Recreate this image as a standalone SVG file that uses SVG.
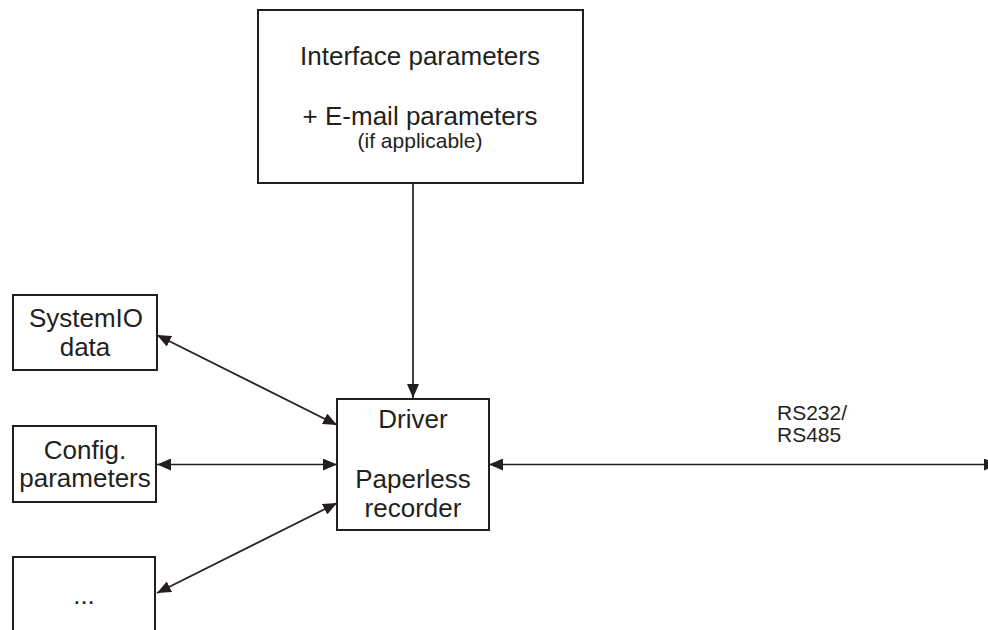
<svg xmlns="http://www.w3.org/2000/svg" width="988" height="630" viewBox="0 0 988 630">
<style>
.box{fill:#fff;stroke:#231f20;stroke-width:2}
.t{font-family:"Liberation Sans",Arial,sans-serif;font-size:26px;fill:#231f20;text-anchor:middle}
.s{font-size:21px}
.rs{font-family:"Liberation Sans",Arial,sans-serif;font-size:21px;fill:#231f20}
.c{fill:none;stroke:#231f20;stroke-width:1.7}
</style>
<defs>
<marker id="ah" viewBox="0 0 14 12" refX="14" refY="6" markerWidth="14" markerHeight="12" markerUnits="userSpaceOnUse" orient="auto-start-reverse">
<path d="M0,0 L14,6 L0,12 Z" fill="#231f20"/>
</marker>
</defs>
<g id="connectors">
<path class="c" d="M413,184 L413,398" marker-end="url(#ah)"/>
<path class="c" d="M157,335 L337,425" marker-start="url(#ah)" marker-end="url(#ah)"/>
<path class="c" d="M157,464.5 L337,464.5" marker-start="url(#ah)" marker-end="url(#ah)"/>
<path class="c" d="M157,593 L337,503" marker-start="url(#ah)" marker-end="url(#ah)"/>
<path class="c" d="M489,464.5 L998,464.5" marker-start="url(#ah)" marker-end="url(#ah)"/>
<text class="rs" x="777" y="420">RS232/</text>
<text class="rs" x="777" y="442">RS485</text>
</g>
<g id="interface">
<rect class="box" x="258" y="10" width="325" height="173"/>
<text class="t" x="420" y="65">Interface parameters</text>
<text class="t" x="420" y="125">+ E-mail parameters</text>
<text class="t s" x="420" y="148">(if applicable)</text>
</g>
<g id="systemio">
<rect class="box" x="13" y="295" width="144" height="75"/>
<text class="t" x="86" y="327">SystemIO</text>
<text class="t" x="85" y="356">data</text>
</g>
<g id="config">
<rect class="box" x="13" y="426" width="143" height="76"/>
<text class="t" x="85" y="459">Config.</text>
<text class="t" x="85" y="487">parameters</text>
</g>
<g id="more">
<rect class="box" x="13" y="557" width="142" height="90"/>
<text class="t" x="84" y="604">...</text>
</g>
<g id="driver">
<rect class="box" x="337" y="399" width="152" height="131"/>
<text class="t" x="413" y="428">Driver</text>
<text class="t" x="413" y="488">Paperless</text>
<text class="t" x="413" y="517">recorder</text>
</g>
</svg>
